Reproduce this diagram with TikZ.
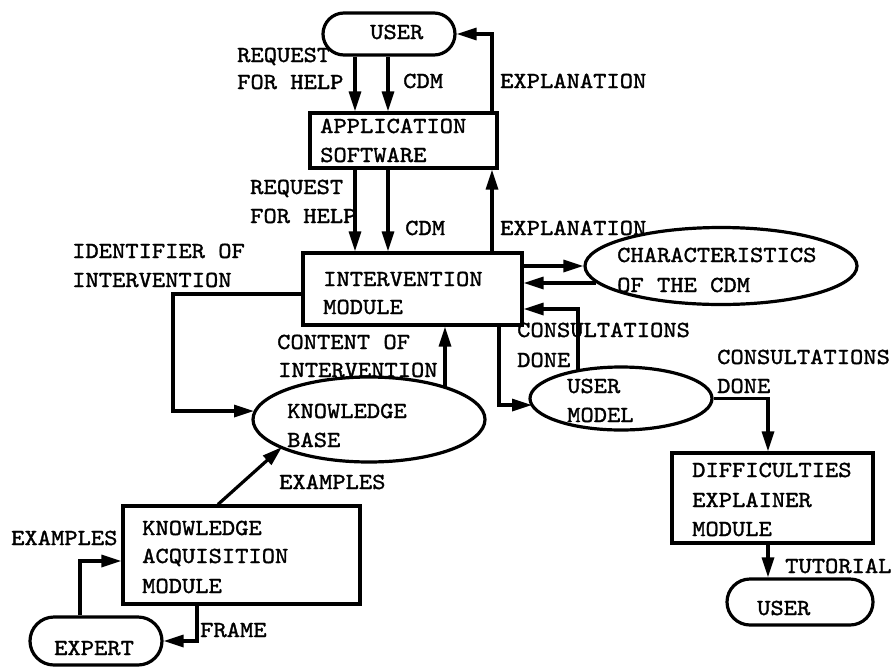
\documentclass[tikz,border=0pt]{standalone}
\usepackage{fontspec}
\newfontfamily\typewriter{lmmono10-regular.otf}[FakeBold=1.4,FakeStretch=1.1]
\usetikzlibrary{shapes.geometric,arrows.meta}
\begin{document}
\begin{tikzpicture}[x=1pt,y=-1pt,
  every node/.style={font=\typewriter\fontsize{23}{27}\selectfont},
  frame/.style={draw,line width=3.2pt,rectangle,inner sep=0pt},
  pill/.style={frame,rounded corners=#1},
  oval/.style={draw,line width=3.2pt,ellipse,inner sep=0pt},
  lbl/.style={anchor=base west,inner sep=0pt},
  link/.style={line width=3.2pt},
  arr/.style={link,-{Triangle[length=20pt,width=12pt]}}]
\useasboundingbox (0,0) rectangle (891,667);

% ---- shapes ----
\node[pill=21pt,minimum width=132pt,minimum height=42pt] (user) at (389,34) {};
\node[frame,minimum width=187pt,minimum height=55pt] (app) at (403.5,140.5) {};
\node[frame,minimum width=219pt,minimum height=72pt] (inter) at (412.5,289) {};
\node[oval,minimum width=272pt,minimum height=77pt] (chars) at (721,266) {};
\node[oval,minimum width=232pt,minimum height=85pt] (kb) at (369,419.5) {};
\node[oval,minimum width=182pt,minimum height=63pt] (umodel) at (621,398.5) {};
\node[frame,minimum width=237pt,minimum height=98pt] (kam) at (241.5,555) {};
\node[pill=24pt,minimum width=132pt,minimum height=48pt] (expert) at (96,641) {};
\node[frame,minimum width=201pt,minimum height=90pt] (dem) at (772.5,498) {};
\node[pill=23pt,minimum width=146pt,minimum height=46pt] (user2) at (800,602) {};

% ---- texts inside shapes ----
\node[lbl] (t-user) at (370,39) {USER};
\node[lbl] (t-app1) at (320,133) {APPLICATION};
\node[lbl] (t-app2) at (320,162) {SOFTWARE};
\node[lbl] (t-int1) at (323,286) {INTERVENTION};
\node[lbl] (t-int2) at (323,314) {MODULE};
\node[lbl] (t-ch1) at (617,262) {CHARACTERISTICS};
\node[lbl] (t-ch2) at (617,292) {OF THE CDM};
\node[lbl] (t-kb1) at (287,418) {KNOWLEDGE};
\node[lbl] (t-kb2) at (287,447) {BASE};
\node[lbl] (t-um1) at (567,393) {USER};
\node[lbl] (t-um2) at (567,422) {MODEL};
\node[lbl] (t-kam1) at (142,535) {KNOWLEDGE};
\node[lbl] (t-kam2) at (142,563) {ACQUISITION};
\node[lbl] (t-kam3) at (142,593) {MODULE};
\node[lbl] (t-exp) at (54,655) {EXPERT};
\node[lbl] (t-dem1) at (692,477) {DIFFICULTIES};
\node[lbl] (t-dem2) at (692,507) {EXPLAINER};
\node[lbl] (t-dem3) at (692,536) {MODULE};
\node[lbl] (t-user2) at (757,615) {USER};

% ---- connector labels ----
\node[lbl] (l-req1a) at (237,62) {REQUEST};
\node[lbl] (l-req1b) at (237,89) {FOR HELP};
\node[lbl] (l-cdm1) at (403,88) {CDM};
\node[lbl] (l-exp1) at (500,88) {EXPLANATION};
\node[lbl] (l-req2a) at (250,194) {REQUEST};
\node[lbl] (l-req2b) at (250,223) {FOR HELP};
\node[lbl] (l-cdm2) at (405,235) {CDM};
\node[lbl] (l-exp2) at (500,235) {EXPLANATION};
\node[lbl] (l-id1) at (72,258) {IDENTIFIER OF};
\node[lbl] (l-id2) at (72,287) {INTERVENTION};
\node[lbl] (l-co1) at (277,349) {CONTENT OF};
\node[lbl] (l-co2) at (278,377) {INTERVENTION};
\node[lbl] (l-cs1a) at (517,337) {CONSULTATIONS};
\node[lbl] (l-cs1b) at (517,367) {DONE};
\node[lbl] (l-cs2a) at (717,364) {CONSULTATIONS};
\node[lbl] (l-cs2b) at (717,393) {DONE};
\node[lbl] (l-ex1) at (279,489) {EXAMPLES};
\node[lbl] (l-ex2) at (11,545) {EXAMPLES};
\node[lbl] (l-frame) at (200,637) {FRAME};
\node[lbl] (l-tut) at (785,573) {TUTORIAL};

% ---- guide coordinates for connector routes ----
\coordinate (xreq) at (355,0);
\coordinate (xcdm) at (388,0);
\coordinate (xexp) at (492,0);
\coordinate (yid) at (0,294);
\coordinate (idbend) at (173,294);
\coordinate (kbw) at (254,411);
\coordinate (kbtop) at (445,387);
\coordinate (kbsw) at (282,447);
\coordinate (xkam) at (218,0);
\coordinate (xexpert) at (80,0);
\coordinate (yexa) at (0,561);
\coordinate (xframe) at (197,0);
\coordinate (chback) at (596,283);
\coordinate (umtop) at (578,371);
\coordinate (ycons) at (0,309);
\coordinate (xum) at (499,0);
\coordinate (umw) at (532,405);
\coordinate (xdem) at (768,0);

% ---- connectors ----
\draw[arr] (user.south -| xreq) -- (app.north -| xreq);
\draw[arr] (user.south -| xcdm) -- (app.north -| xcdm);
\draw[arr] (app.north -| xexp) |- (user.east);
\draw[arr] (app.south -| xreq) -- (inter.north -| xreq);
\draw[arr] (app.south -| xcdm) -- (inter.north -| xcdm);
\draw[arr] (inter.north -| xexp) -- (app.south -| xexp);
\draw[arr] (inter.west |- yid) -- (idbend) |- (kbw);
\draw[arr] (kbtop) -- (inter.south -| kbtop);
\draw[arr] (kam.north -| xkam) -- (kbsw);
\draw[arr] (expert.north -| xexpert) |- (kam.west |- yexa);
\draw[arr] (kam.south -| xframe) |- (expert.east);
\draw[arr] (inter.east |- chars.west) -- (chars.west);
\draw[arr] (chback) -- (inter.east |- chback);
\draw[arr] (umtop) |- (inter.east |- ycons);
\draw[arr] (inter.south -| xum) |- (umw);
\draw[arr] (umodel.east) -| (dem.north -| xdem);
\draw[arr] (dem.south -| xdem) -- (user2.north -| xdem);
\end{tikzpicture}
\end{document}
